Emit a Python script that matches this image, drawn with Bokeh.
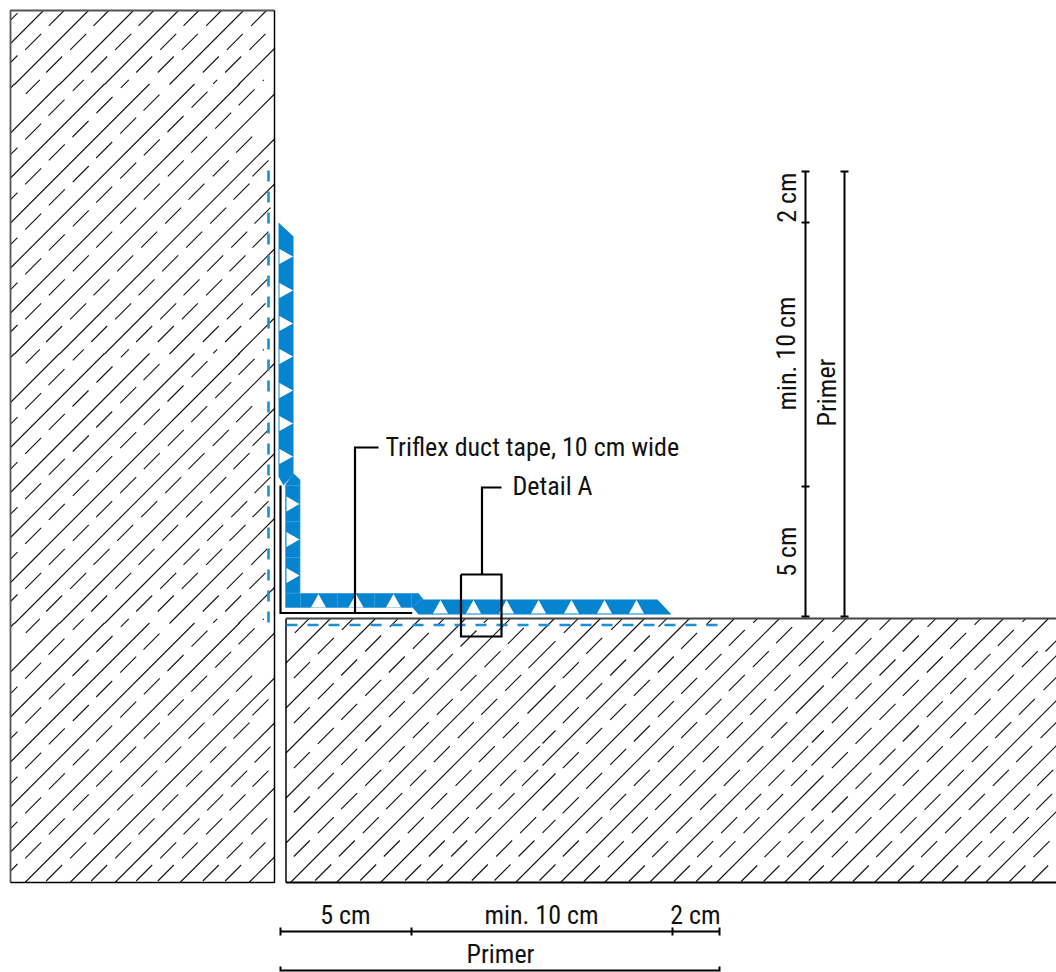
from bokeh.plotting import figure
from bokeh.models import Range1d
from bokeh.core.properties import value
from bokeh.embed import file_html
from bokeh.resources import INLINE

FONT = "Roboto Condensed"
FONT_SIZE = "26px"
BLUE = "#0784cf"
LIGHT = "#3f9fd9"
DASHBLUE = "#1a90d8"
INK = "#000000"

# --- wall and floor outlines
wall_x = [10, 274]
wall_y = [10, 882]
floor_x = [285.5, 1056]
floor_y = [618, 882]

# --- wall hatch: one repeating tile (y 353..623), repeated at these vertical shifts
wall_shifts = [-539, -269.5, 0, 269.5]
wall_tile_top = 353
wall_tile_bottom = 623
# solid diagonals of the tile, as x+y
wall_long = [367, 412, 457, 502, 547, 592, 637, 682, 727, 792, 861]
# short strokes of the tile: upper right end x, y and stroke length
wall_strokes = [
    (64, 368.7, 16), (112, 366, 16), (159, 363.7, 16), (207, 360.7, 16), (254, 358.3, 16),
    (40.7, 392.7, 16), (88, 390, 16), (135.7, 386.7, 16), (183, 385, 16), (230.7, 381.7, 16),
    (64.3, 413.3, 16), (111.7, 411, 16), (159.3, 408.3, 16), (206.7, 405.7, 16), (251.7, 405.7, 16),
    (17, 416.7, 16),
    (40.7, 437.3, 16), (88.3, 435, 16), (135.7, 431.7, 16), (183.3, 429.3, 16), (228.3, 429.3, 16), (268, 429.3, 16),
    (64.3, 458.3, 16), (111.7, 455.7, 16), (159.3, 452.7, 16), (204, 452.7, 16), (249, 452.7, 16),
    (17, 461.7, 16),
    (40.7, 482.7, 16), (88.3, 479.3, 16), (135.7, 476.7, 16), (180.7, 476.7, 16), (225.7, 476.7, 16), (270, 476.7, 16),
    (64.3, 503.3, 16), (111.7, 500.7, 16), (156.7, 500.7, 16), (201.7, 500.7, 16), (246.7, 500.7, 16), (268, 500.7, 16),
    (17, 506.7, 16),
    (40.7, 527.3, 16), (88.3, 524.3, 16), (132.7, 524.3, 16), (177.7, 524.3, 16), (222.7, 524.3, 16), (245, 524.3, 16),
    (64.3, 548.3, 16), (109, 548.3, 16), (154, 548.3, 16), (199, 548.3, 16), (221.7, 548.3, 16), (266.7, 548.3, 16),
    (17, 551.7, 16),
    (40.7, 572.3, 16), (85.7, 572.3, 16), (130.7, 572.3, 16), (175.7, 572.3, 16), (197.3, 572.3, 16), (242.3, 572.3, 16), (265, 572.3, 16),
    (17, 594, 16),
    (61.7, 595, 16), (106.7, 595, 16), (151.7, 595, 16), (173.3, 595, 16), (218.3, 595, 16), (240.7, 595, 16),
    (39.3, 618.3, 14), (83.3, 618.3, 11), (128.3, 618.3, 8), (216.7, 618.3, 4), (263.3, 618.3, 1),
]

# --- floor hatch: solid diagonals (x+y, lowest x, highest x)
floor_long = [
    (948, 0, 2000), (993, 0, 2000), (1038, 0, 2000), (1083, 0, 2000), (1128, 0, 2000), (1172, 0, 2000),
    (1218, 0, 2000), (1262, 0, 2000), (1307, 542, 2000), (1328, 0, 555), (1352, 542, 2000), (1397, 0, 2000),
    (1442, 0, 2000), (1486, 0, 2000), (1531, 0, 2000), (1576, 811, 2000), (1598, 0, 823), (1621, 811, 2000),
    (1666, 0, 2000), (1711, 0, 2000), (1756, 0, 2000), (1801, 0, 2000), (1867, 0, 2000),
]
# floor strokes, in thirds of a pixel from the corners (280,610), (560,610), (800,610)
floor_left_strokes = [
    (85, 25, 14), (217, 25, 11), (352, 25, 8), (490, 25, 6), (622, 25, 4), (892, 25, 14),
    (160, 82, 16), (302, 75, 16), (445, 67, 16), (588, 60, 16), (730, 52, 16),
    (88, 155, 16), (230, 147, 16), (373, 138, 16), (517, 130, 16), (660, 122, 16), (825, 92, 27), (895, 155, 16),
    (160, 218, 16), (302, 208, 16), (445, 202, 16), (588, 193, 16), (722, 193, 16), (825, 225, 28),
    (88, 290, 16), (230, 280, 16), (373, 272, 16), (517, 265, 16), (650, 265, 16), (895, 290, 16),
    (160, 352, 16), (302, 345, 16), (445, 335, 16), (580, 335, 16), (715, 335, 16), (825, 360, 13),
    (88, 425, 16), (230, 415, 16), (373, 407, 16), (508, 407, 16), (643, 407, 16), (778, 407, 16), (895, 425, 16),
    (160, 487, 16), (302, 478, 16), (437, 478, 16), (573, 478, 16), (707, 478, 16), (773, 478, 16),
    (88, 558, 16), (230, 548, 16), (365, 548, 16), (500, 548, 16), (635, 548, 16), (702, 548, 16), (895, 560, 16),
    (160, 620, 16), (295, 620, 16), (430, 620, 16), (565, 620, 16), (632, 620, 16), (767, 620, 16), (825, 628, 13),
    (88, 690, 16), (223, 690, 16), (358, 690, 16), (493, 690, 16), (560, 690, 16), (695, 690, 16), (762, 690, 16), (895, 690, 16),
    (152, 762, 16), (287, 762, 16), (422, 762, 16), (487, 762, 16), (622, 762, 16), (690, 762, 16), (825, 762, 16),
]
floor_mid_strokes = [
    (185, 25, 11), (318, 25, 8), (455, 25, 6), (590, 25, 4),
    (125, 82, 16), (268, 75, 16), (410, 67, 16), (553, 58, 16), (695, 50, 16),
    (197, 147, 16), (340, 138, 16), (483, 130, 16), (625, 122, 16),
    (125, 218, 16), (268, 208, 16), (410, 202, 16), (553, 193, 16), (690, 193, 16),
    (197, 280, 16), (340, 272, 16), (483, 265, 16), (617, 265, 16),
    (125, 352, 16), (268, 345, 16), (410, 335, 16), (547, 335, 16), (680, 335, 16),
    (197, 415, 16), (340, 407, 16), (475, 407, 16), (608, 407, 16), (743, 407, 16),
    (125, 487, 16), (268, 478, 16), (405, 478, 16), (538, 478, 16), (672, 478, 16), (740, 478, 16),
    (197, 550, 16), (332, 550, 16), (467, 550, 16), (602, 550, 16), (668, 550, 16),
    (125, 620, 16), (262, 620, 16), (395, 620, 16), (530, 620, 16), (597, 620, 16), (732, 620, 16),
    (190, 692, 16), (323, 692, 16), (458, 692, 16), (525, 692, 16), (660, 692, 16), (728, 692, 16),
    (118, 765, 16), (253, 765, 16), (388, 765, 16), (455, 765, 16), (590, 765, 16), (657, 765, 16),
]
floor_right_strokes = [
    (135, 25, 13), (270, 25, 11), (405, 25, 8), (540, 25, 6), (675, 25, 3),
    (70, 92, 25), (213, 83, 16), (355, 75, 16), (497, 67, 16), (640, 58, 16), (768, 90, 11),
    (142, 155, 16), (285, 147, 16), (427, 138, 16), (570, 130, 16), (712, 122, 16),
    (70, 225, 28), (213, 218, 16), (355, 208, 16), (497, 202, 16), (640, 193, 16), (768, 200, 13),
    (142, 290, 16), (285, 280, 16), (427, 272, 16), (570, 265, 16), (703, 265, 16),
    (70, 360, 12), (213, 352, 16), (355, 345, 16), (497, 335, 16), (632, 335, 16), (768, 335, 16),
    (142, 425, 16), (285, 415, 16), (427, 407, 16), (562, 407, 16), (695, 407, 16),
    (213, 487, 16), (355, 478, 16), (490, 478, 16), (625, 478, 16), (758, 478, 16),
    (142, 558, 16), (285, 550, 16), (420, 550, 16), (553, 550, 16), (688, 550, 16), (755, 550, 16),
    (70, 628, 13), (213, 620, 16), (348, 620, 16), (482, 620, 16), (617, 620, 16), (685, 620, 16),
    (142, 692, 16), (275, 692, 16), (410, 692, 16), (545, 692, 16), (612, 692, 16), (747, 692, 16),
    (70, 765, 15), (205, 765, 16), (340, 765, 16), (473, 765, 16), (540, 765, 16), (675, 765, 16), (743, 765, 16),
]

# --- tape
tape_upper_x = [278, 293, 293, 283, 278]
tape_upper_y = [222, 236, 474, 485, 476]
tape_lower_x = [285, 293, 299.5, 299.5, 418, 423, 423, 412, 285]
tape_lower_y = [484, 473, 479, 592.7, 592.7, 599, 607, 607, 607]
tape_run_x = [423, 657, 671, 418, 412]
tape_run_y = [599, 599, 614, 614, 607]
tri_right_upper = [256, 290, 323, 356, 390, 423, 456]
tri_right_lower = [503.5, 539, 575]
tri_up_lower = [318, 355.5, 393]
tri_up_run = [440, 473, 506, 538, 571, 604, 636]
seam_h_y = [485, 521, 557, 592.7]
seam_v_x = [300, 337, 374, 411]

# --- leaders
bracket_x = [280, 280, 411.7]
bracket_y = [485, 612.5, 612.5]
duct_x = [354.5, 354.5, 378]
duct_y = [612.5, 447, 447]
detail_x = [481.5, 481.5, 501]
detail_y = [574, 487, 487]
detail_box_x = [460.5, 501, 501, 460.5, 460.5]
detail_box_y = [574, 574, 636, 636, 574]
primer_v_x = [268, 268]
primer_v_y = [170, 626]
primer_h_x = [286, 720]
primer_h_y = [624.5, 624.5]

# --- dimensions
bottom_ticks = [280, 411, 672, 719]
right_ticks = [171, 222, 486, 616]
bottom_y = 931
bottom_primer_y = 970
right_x = 805
right_primer_x = 844

p = figure(width=1056, height=972, x_range=Range1d(0, 1056), y_range=Range1d(972, 0),
           output_backend="svg", toolbar_location=None, min_border=0)
p.axis.visible = False
p.grid.visible = False
p.outline_line_color = None
p.background_fill_color = "white"


def clip(c, y1, y2, xr, yr):
    """Part of the diagonal x+y=c with y1<=y<=y2 inside the rectangle."""
    lo = max(y1, yr[0], c - xr[1])
    hi = min(y2, yr[1], c - xr[0])
    return (c - lo, lo, c - hi, hi) if hi > lo else None


hx, hy = [], []


def add(seg):
    if seg:
        hx.append([seg[0], seg[2]])
        hy.append([seg[1], seg[3]])


for s in wall_shifts:
    for c in wall_long:
        add(clip(c + s, wall_tile_top + s, wall_tile_bottom + s, wall_x, wall_y))
    for x, y, n in wall_strokes:
        add(clip(x + y + s, y + s, y + s + n, wall_x, wall_y))

for c, xmin, xmax in floor_long:
    add(clip(c, c - xmax, c - xmin, floor_x, floor_y))
for strokes, ox in [(floor_left_strokes, 280), (floor_mid_strokes, 560), (floor_right_strokes, 800)]:
    for zx, zy, n in strokes:
        x = ox + zx / 3
        y = 610 + zy / 3
        add(clip(x + y, y, y + n, floor_x, floor_y))

p.multi_line(hx, hy, line_color="#111111", line_width=1.1)

# block outlines
p.line([wall_x[0], wall_x[0], wall_x[1]], [wall_y[1], wall_y[0], wall_y[0]], line_color="#555555", line_width=1.8)
p.line([wall_x[1], wall_x[1], wall_x[0]], [wall_y[0], wall_y[1], wall_y[1]], line_color=INK, line_width=1.5)
p.line([floor_x[0], floor_x[0]], [floor_y[0], floor_y[1]], line_color=INK, line_width=1.5)
p.line([floor_x[0], floor_x[1]], [floor_y[0], floor_y[0]], line_color="#444444", line_width=1.8)
p.line([floor_x[0], floor_x[1]], [floor_y[1], floor_y[1]], line_color=INK, line_width=1.8)

# primer dashes
p.line(primer_v_x, primer_v_y, line_color=DASHBLUE, line_width=2.6, line_dash="11 10")
p.line(primer_h_x, primer_h_y, line_color=DASHBLUE, line_width=2.6, line_dash="11 10")

# tape
p.patch(tape_upper_x, tape_upper_y, fill_color=BLUE, line_color=None)
p.patch(tape_lower_x, tape_lower_y, fill_color=BLUE, line_color=None)
p.patch(tape_run_x, tape_run_y, fill_color=BLUE, line_color=None)

sx = [[285, 299.5] for _ in seam_h_y] + [[v, v] for v in seam_v_x] + [[299.5, 299.5], [285, 285], [285, 411], [283, 293], [412, 423]]
sy = [[v, v] for v in seam_h_y] + [[592.7, 607] for _ in seam_v_x] + [[479, 592.7], [485, 607], [607, 607], [484, 474], [607, 597]]
p.multi_line(sx, sy, line_color=LIGHT, line_width=0.8)

txs, tys = [], []
for y in tri_right_upper:
    txs.append([279, 279, 292.5]); tys.append([y - 7.5, y + 7.5, y])
for y in tri_right_lower:
    txs.append([286, 286, 299]); tys.append([y - 7.5, y + 7.5, y])
for x in tri_up_lower:
    txs.append([x - 7.5, x + 7.5, x]); tys.append([607, 607, 593.5])
for x in tri_up_run:
    txs.append([x - 7.5, x + 7.5, x]); tys.append([613, 613, 599.5])
p.patches(txs, tys, fill_color="white", line_color=None)

# leaders
for xs, ys in [(bracket_x, bracket_y), (duct_x, duct_y), (detail_x, detail_y), (detail_box_x, detail_box_y)]:
    p.line(xs, ys, line_color=INK, line_width=2.2, line_join="miter")

# dimension lines
DIM = 2
p.line([bottom_ticks[0], bottom_ticks[-1]], [bottom_y, bottom_y], line_color=INK, line_width=DIM)
p.line([bottom_ticks[0], bottom_ticks[-1]], [bottom_primer_y, bottom_primer_y], line_color=INK, line_width=DIM)
p.line([right_x, right_x], [right_ticks[0], right_ticks[-1]], line_color=INK, line_width=DIM)
p.line([right_primer_x, right_primer_x], [right_ticks[0], right_ticks[-1]], line_color=INK, line_width=DIM)
p.multi_line([[x, x] for x in bottom_ticks], [[bottom_y - 4, bottom_y + 4] for _ in bottom_ticks], line_color=INK, line_width=DIM)
p.multi_line([[x, x] for x in (bottom_ticks[0], bottom_ticks[-1])], [[bottom_primer_y - 4, bottom_primer_y + 1]] * 2, line_color=INK, line_width=DIM)
p.multi_line([[right_x - 4, right_x + 4] for _ in right_ticks], [[y, y] for y in right_ticks], line_color=INK, line_width=DIM)
p.multi_line([[right_primer_x - 4, right_primer_x + 4]] * 2, [[right_ticks[0]] * 2, [right_ticks[-1]] * 2], line_color=INK, line_width=DIM)


def label(x, y, s, align="center", angle=0.0):
    p.text([x], [y], text=[s], text_font=value(FONT), text_font_size=FONT_SIZE, text_color="#111111",
           text_align=align, text_baseline="middle", angle=angle)


label(385, 446, "Triflex duct tape, 10 cm wide", "left")
label(512, 485, "Detail A", "left")
label(345, 914, "5 cm")
label(541, 914, "min. 10 cm")
label(695, 914, "2 cm")
label(500, 953, "Primer")
label(786, 197, "2 cm", angle=1.5708)
label(786, 353, "min. 10 cm", angle=1.5708)
label(786, 551, "5 cm", angle=1.5708)
label(826, 392, "Primer", angle=1.5708)

open("out.html", "w").write(file_html(p, INLINE))
